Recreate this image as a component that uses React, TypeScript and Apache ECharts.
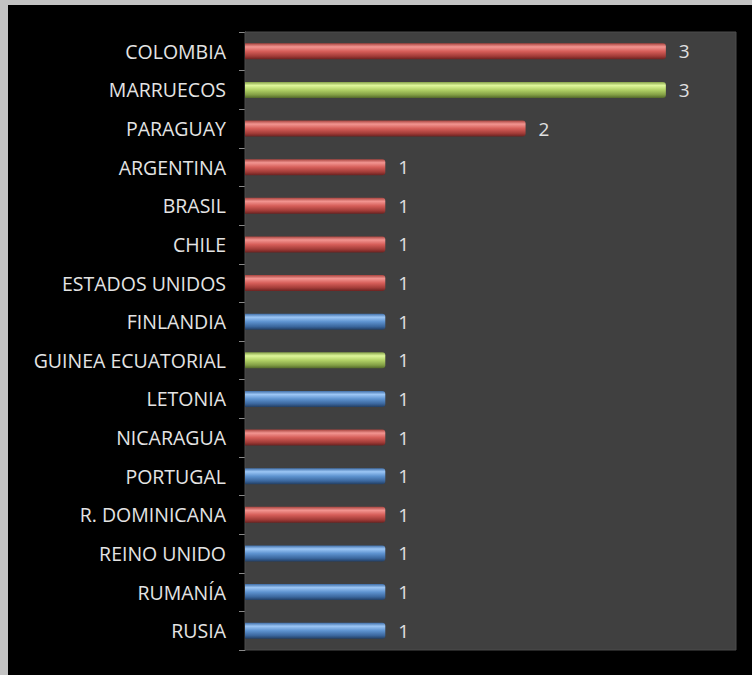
import React, { useEffect, useRef } from "react";
import * as echarts from "echarts";

const countries = [
  "COLOMBIA",
  "MARRUECOS",
  "PARAGUAY",
  "ARGENTINA",
  "BRASIL",
  "CHILE",
  "ESTADOS UNIDOS",
  "FINLANDIA",
  "GUINEA ECUATORIAL",
  "LETONIA",
  "NICARAGUA",
  "PORTUGAL",
  "R. DOMINICANA",
  "REINO UNIDO",
  "RUMANÍA",
  "RUSIA",
];
const counts = [3, 3, 2, 1, 1, 1, 1, 1, 1, 1, 1, 1, 1, 1, 1, 1];
const regions = [
  "america",
  "africa",
  "america",
  "america",
  "america",
  "america",
  "america",
  "europe",
  "africa",
  "europe",
  "america",
  "europe",
  "america",
  "europe",
  "europe",
  "europe",
];

const palettes: Record<string, string[]> = {
  america: ["#a9443f", "#f29591", "#d65e59", "#a23c38", "#6a2220"],
  africa: ["#86a24a", "#def79a", "#b1d166", "#839f45", "#53692a"],
  europe: ["#3f6ea8", "#9cc6f5", "#5e93d0", "#3b679e", "#233f64"],
};

function grad(region: string) {
  const p = palettes[region];
  return new echarts.graphic.LinearGradient(0, 0, 0, 1, [
    { offset: 0, color: p[0] },
    { offset: 0.22, color: p[1] },
    { offset: 0.5, color: p[2] },
    { offset: 0.8, color: p[3] },
    { offset: 1, color: p[4] },
  ]);
}

export default function App() {
  const ref = useRef<HTMLDivElement>(null);
  useEffect(() => {
    if (!ref.current) return;
    const chart = echarts.init(ref.current, null, { renderer: "svg" });
    const font = "'Open Sans', sans-serif";
    chart.setOption({
      animation: false,
      backgroundColor: "#c3c3c3",
      graphic: [
        {
          type: "rect",
          z: -10,
          shape: { x: 8, y: 5, width: 744, height: 670 },
          style: { fill: "#000000" },
          silent: true,
        },
      ],
      grid: {
        left: 245,
        top: 32,
        width: 491,
        height: 618,
        show: true,
        backgroundColor: "#404040",
        borderColor: "#4c4c4c",
        borderWidth: 1,
        z: 1,
      },
      xAxis: {
        type: "value",
        min: 0,
        max: 3.5,
        show: false,
        splitLine: { show: false },
      },
      yAxis: {
        type: "category",
        data: countries,
        inverse: true,
        axisLine: { show: true, lineStyle: { color: "#8a8a8a", width: 1 } },
        axisTick: { show: true, length: 6, lineStyle: { color: "#8a8a8a" } },
        axisLabel: {
          color: "#e4e4e4",
          fontSize: 19.5,
          fontFamily: font,
          margin: 19,
        },
        splitLine: { show: false },
      },
      series: [
        {
          type: "bar",
          barWidth: 16,
          data: counts.map((v, i) => ({
            value: v,
            itemStyle: { color: grad(regions[i]), borderRadius: [0, 3, 3, 0] },
          })),
          label: {
            show: true,
            position: "right",
            distance: 13,
            color: "#e0e0e0",
            fontSize: 19,
            fontFamily: font,
          },
        },
      ],
    });
    return () => chart.dispose();
  }, []);
  return (
    <div
      ref={ref}
      style={{ position: "fixed", left: 0, top: 0, width: 752, height: 675 }}
    />
  );
}
